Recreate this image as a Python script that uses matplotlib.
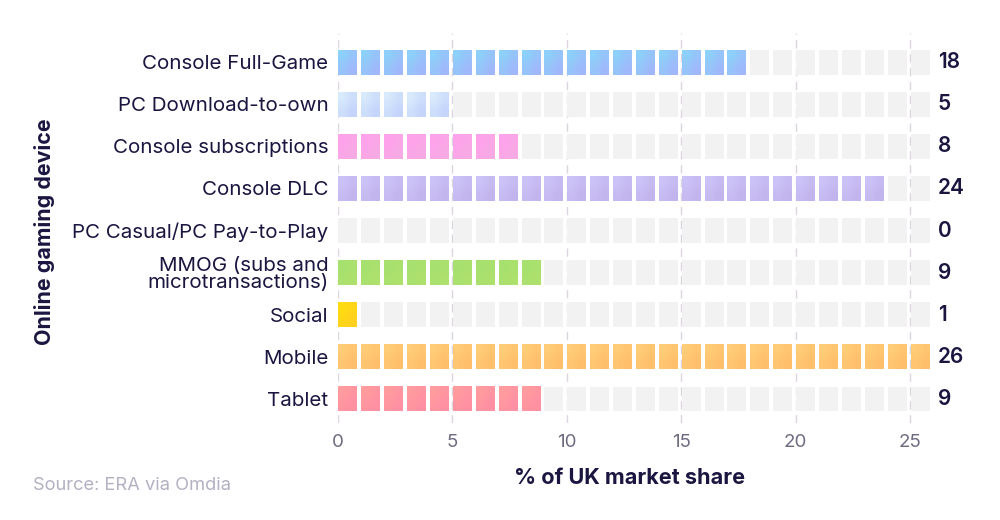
import numpy as np
import matplotlib.pyplot as plt
from matplotlib.colors import LinearSegmentedColormap

plt.rcParams['font.family'] = ['Inter', 'DejaVu Sans']

# data
devices = ["Console Full-Game", "PC Download-to-own", "Console subscriptions",
           "Console DLC", "PC Casual/PC Pay-to-Play",
           "MMOG (subs and\nmicrotransactions)", "Social", "Mobile", "Tablet"]
shares = [18, 5, 8, 24, 0, 9, 1, 26, 9]
total_slots = 26

# gradient colours per row (top-left, bottom-right)
bar_colors = [("#8dd0f9", "#a0b8fb"),
              ("#d8eafc", "#c4d4fb"),
              ("#ffa2ec", "#f6aae4"),
              ("#cbc3f8", "#c2b4ec"),
              ("#cccccc", "#cccccc"),
              ("#a6e070", "#aee06c"),
              ("#ffdc10", "#ffd020"),
              ("#ffcc78", "#ffbf6a"),
              ("#ff9c9e", "#ff90a4")]

fig = plt.figure(figsize=(10, 5.2), dpi=100)
ax = fig.add_axes([0.338, 0.1865, 0.595, 0.75])

sq_w = 0.83
sq_h = 0.59
grad = np.array([[0.0, 0.5], [0.5, 1.0]])

for row, (name, val) in enumerate(zip(devices, shares)):
    cmap = LinearSegmentedColormap.from_list(name, bar_colors[row])
    for i in range(total_slots):
        x0 = i + 0.02
        y0 = row - sq_h / 2
        if i < val:
            ax.imshow(grad, cmap=cmap, vmin=0, vmax=1, interpolation='bilinear',
                      extent=(x0, x0 + sq_w, row + sq_h / 2, y0),
                      aspect='auto', zorder=2)
        else:
            ax.add_patch(plt.Rectangle((x0, y0), sq_w, sq_h, color="#f2f2f2",
                                       lw=0, zorder=2))
    ax.text(26.2, row, str(val), va='center', ha='left', fontsize=15,
            fontweight='semibold', color="#1b1640", clip_on=False)

for gx in range(0, 26, 5):
    ax.axvline(gx, color="#dcd4de", lw=1, ls=(0, (6, 4)), zorder=1)

ax.set_xlim(0, 26)
ax.set_ylim(8.57, -0.69)
ax.set_xticks(range(0, 26, 5))
ax.set_yticks(range(len(devices)))
ax.set_yticklabels(devices, fontsize=14.8, color="#1b1640", linespacing=0.92)
ax.tick_params(axis='x', length=0, pad=8, labelsize=13.5, labelcolor="#6e6a80")
ax.tick_params(axis='y', length=0, pad=7)
for s in ax.spines.values():
    s.set_visible(False)

fig.text(0.045, 0.555, "Online gaming device", rotation=90, ha='center',
         va='center', fontsize=15.4, fontweight='bold', color="#1b1640")
fig.text(0.63, 0.081, "% of UK market share", ha='center', va='center',
         fontsize=15.6, fontweight='bold', color="#1b1640")
fig.text(0.033, 0.067, "Source: ERA via Omdia", ha='left', va='center',
         fontsize=13.2, color="#b3b1c2")

fig.savefig("out.png", dpi=100)
